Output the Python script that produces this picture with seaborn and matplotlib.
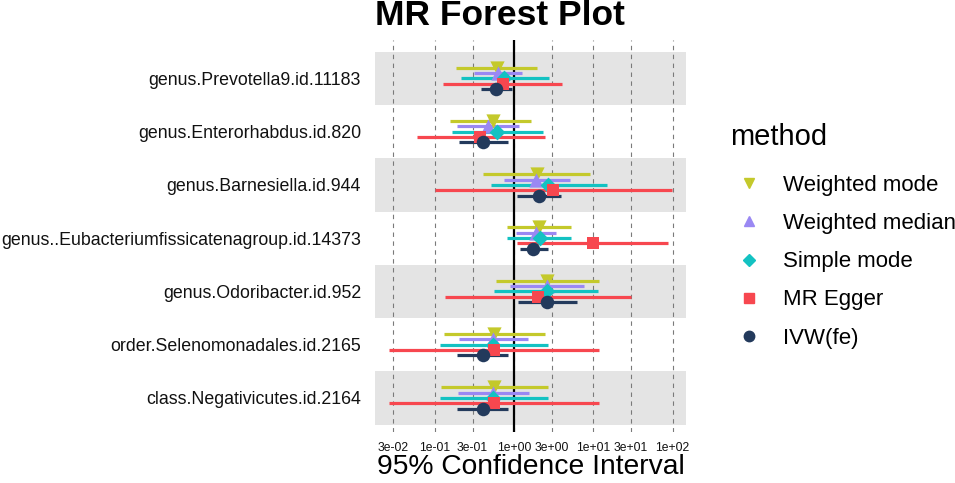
import numpy as np
import pandas as pd
import matplotlib
matplotlib.use("Agg")
import matplotlib.pyplot as plt
from matplotlib.lines import Line2D
import seaborn as sns

# exposures (top to bottom)
exposures = [
    "genus.Prevotella9.id.11183",
    "genus.Enterorhabdus.id.820",
    "genus.Barnesiella.id.944",
    "genus..Eubacteriumfissicatenagroup.id.14373",
    "genus.Odoribacter.id.952",
    "order.Selenomonadales.id.2165",
    "class.Negativicutes.id.2164",
]
methods = ["Weighted mode", "Weighted median", "Simple mode", "MR Egger", "IVW(fe)"]

# odds ratios with 95% CI
or_wmode = [0.605, 0.538, 1.93, 2.07, 2.58, 0.56, 0.56]
lo_wmode = [0.186, 0.156, 0.41, 0.824, 0.593, 0.131, 0.12]
hi_wmode = [1.97, 1.65, 9.08, 5.23, 11.7, 2.46, 2.66]

or_wmedian = [0.62, 0.474, 1.88, 1.88, 2.58, 0.548, 0.548]
lo_wmedian = [0.316, 0.193, 0.748, 1.05, 0.891, 0.2, 0.197]
hi_wmedian = [1.25, 1.16, 5.08, 3.39, 7.64, 1.52, 1.56]

or_smode = [0.755, 0.61, 2.71, 2.1, 2.58, 0.548, 0.548]
lo_smode = [0.213, 0.165, 0.508, 0.824, 0.56, 0.117, 0.116]
hi_smode = [2.79, 2.34, 14.8, 5.23, 11.4, 2.66, 2.66]

or_egger = [0.72, 0.372, 3.13, 9.82, 1.99, 0.56, 0.56]
lo_egger = [0.128, 0.0593, 0.101, 1.10, 0.135, 0.0268, 0.0268]
hi_egger = [3.99, 2.44, 99.1, 88.3, 29.5, 11.7, 11.7]

or_ivw = [0.593, 0.41, 2.07, 1.75, 2.58, 0.41, 0.41]
lo_ivw = [0.384, 0.205, 1.08, 1.18, 1.11, 0.193, 0.193]
hi_ivw = [0.935, 0.833, 3.88, 2.71, 6.17, 0.849, 0.849]

xticks = [0.03, 0.1, 0.3, 1, 3, 10, 30, 100]
xtick_labels = ["3e-02", "1e-01", "3e-01", "1e+00", "3e+00", "1e+01", "3e+01", "1e+02"]

colors = {
    "Weighted mode": "#C4C92B",
    "Weighted median": "#9A88F3",
    "Simple mode": "#13C2C2",
    "MR Egger": "#F7474F",
    "IVW(fe)": "#233A5C",
}
markers = {
    "Weighted mode": "v",
    "Weighted median": "^",
    "Simple mode": "D",
    "MR Egger": "s",
    "IVW(fe)": "o",
}
sizes = {"Weighted mode": 105, "Weighted median": 105, "Simple mode": 65, "MR Egger": 80, "IVW(fe)": 95}

# long table
parts = []
for m, est, lo, hi in zip(methods,
                          [or_wmode, or_wmedian, or_smode, or_egger, or_ivw],
                          [lo_wmode, lo_wmedian, lo_smode, lo_egger, lo_ivw],
                          [hi_wmode, hi_wmedian, hi_smode, hi_egger, hi_ivw]):
    parts.append(pd.DataFrame({"exposure": exposures, "method": m,
                               "or": est, "lo": lo, "hi": hi}))
df = pd.concat(parts, ignore_index=True)
dodge = {m: (i - 2) * 0.1 for i, m in enumerate(methods)}
df["y"] = df["exposure"].map({e: i for i, e in enumerate(exposures)}) + df["method"].map(dodge)

sns.set_theme(style="white")
plt.rcParams["font.family"] = ["Liberation Sans", "DejaVu Sans"]
plt.rcParams["text.color"] = "black"

fig = plt.figure(figsize=(9.55, 4.83), dpi=100)
ax = fig.add_axes([375 / 955, 1 - 432 / 483, 311 / 955, 392 / 483])

# gray stripes on alternate rows
for i in range(0, len(exposures), 2):
    ax.axhspan(i - 0.5, i + 0.5, color="#E4E4E4", zorder=0, lw=0)

ax.axvline(1, color="black", lw=1.6, zorder=1.8)

for m in methods:
    sub = df[df["method"] == m]
    ax.hlines(sub["y"], sub["lo"], sub["hi"], color=colors[m], lw=2.3, zorder=2)

for m in methods:
    sub = df[df["method"] == m]
    sns.scatterplot(data=sub, x="or", y="y", color=colors[m], marker=markers[m],
                    s=sizes[m], linewidth=0, ax=ax, zorder=3, legend=False)

ax.set_xscale("log")
ax.set_xlim(0.01767, 147.6)
ax.set_ylim(6.64, -0.72)
ax.set_xticks(xticks)
ax.set_xticklabels(xtick_labels)
ax.minorticks_off()
ax.set_yticks(range(len(exposures)))
ax.set_yticklabels(exposures)
ax.tick_params(axis="x", length=0, pad=7, labelsize=8.7, colors="#111111")
ax.tick_params(axis="y", length=0, pad=10, labelsize=12.75, colors="#111111")
ax.grid(axis="x", color="#7a7a7a", linestyle=(0, (4, 4)), lw=0.8)
ax.grid(axis="y", visible=False)
for s in ax.spines.values():
    s.set_visible(False)

ax.set_xlabel("95% Confidence Interval", fontsize=20.3, labelpad=0, color="black")
ax.set_ylabel("")
ax.set_title("MR Forest Plot", loc="left", fontsize=25.5, fontweight="bold",
             pad=10.8, color="black")

handles = [Line2D([], [], linestyle="none", marker=markers[m], color=colors[m],
                  markersize=7.5 if m != "Simple mode" else 6) for m in methods]
leg = fig.legend(handles, methods, title="method", loc="upper left",
                 bbox_to_anchor=(730 / 955, 1 - 123 / 483), frameon=False,
                 fontsize=16, title_fontsize=21, labelspacing=0.77,
                 handlelength=1.71, handletextpad=0.68, borderpad=0,
                 borderaxespad=0)
leg._legend_box.align = "left"
leg._legend_box.sep = 17.4  # extra room under the legend title

fig.savefig("out.png", dpi=100)
